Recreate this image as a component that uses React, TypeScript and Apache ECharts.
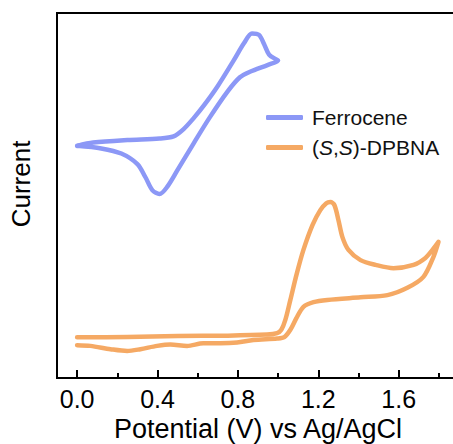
import React, { useEffect, useRef } from "react";
import * as echarts from "echarts";

const ferroceneV = [0.0, 0.08, 0.25, 0.41, 0.48, 0.53, 0.58, 0.63, 0.7, 0.78, 0.83, 0.87, 0.905, 0.93, 0.955, 0.99, 1.0,
  0.95, 0.86, 0.81, 0.75, 0.66, 0.58, 0.5, 0.45, 0.41, 0.375, 0.34, 0.3, 0.22, 0.12, 0.0];
const ferroceneI = [63.6, 64.5, 65.2, 65.6, 66.2, 68.2, 71.2, 74.6, 80.0, 87.1, 91.7, 94.4, 94.0, 91.5, 88.6, 87.3, 87.0,
  85.8, 83.9, 82.4, 78.6, 71.4, 64.3, 57.0, 52.5, 50.4, 51.4, 55.0, 58.6, 61.5, 62.9, 63.6];

const dpbnaV = [0.0, 0.25, 0.5, 0.75, 0.945, 0.995, 1.016, 1.036, 1.061, 1.091, 1.126, 1.171, 1.21, 1.24, 1.26, 1.28, 1.3, 1.32, 1.35, 1.41, 1.485, 1.574, 1.674, 1.733, 1.768, 1.798,
  1.773, 1.723, 1.643, 1.544, 1.41, 1.245, 1.176, 1.126, 1.091, 1.061, 1.031, 0.995, 0.877, 0.796, 0.713, 0.628, 0.547, 0.464, 0.398, 0.315, 0.249, 0.166, 0.066, 0.0];
const dpbnaI = [11.15, 11.2, 11.5, 11.6, 11.9, 12.3, 13.2, 15.9, 21.4, 28.2, 35.1, 41.9, 46.0, 47.9, 48.2, 47.4, 43.3, 38.6, 35.1, 32.3, 31.0, 30.1, 31.0, 32.9, 35.1, 37.3,
  33.2, 27.7, 24.7, 22.7, 22.1, 21.4, 20.8, 19.5, 16.4, 13.2, 11.2, 10.8, 10.4, 9.7, 9.5, 9.5, 8.8, 9.2, 8.8, 7.9, 7.4, 7.9, 8.8, 9.0];

const majorTicks = [0, 0.4, 0.8, 1.2, 1.6];
const minorTicks = [0.2, 0.6, 1.0, 1.4, 1.8];
const seriesNames = ["Ferrocene", "(S,S)-DPBNA"];
const xTitle = "Potential (V) vs Ag/AgCl";
const yTitle = "Current";

const FONT = "'Liberation Sans', Arial, sans-serif";

export default function App() {
  const ref = useRef<HTMLDivElement>(null);
  useEffect(() => {
    document.body.style.margin = "0";
    if (!ref.current) return;
    const chart = echarts.init(ref.current, null, { renderer: "svg" });
    const pairs = (xs: number[], ys: number[]) => xs.map((x, i) => [x, ys[i]]);
    chart.setOption({
      animation: false,
      backgroundColor: "#ffffff",
      grid: {
        left: 57,
        top: 13,
        width: 402,
        height: 365,
        outerBoundsMode: "none",
        containLabel: false,
        show: true,
        borderColor: "#000",
        borderWidth: 2,
        backgroundColor: "transparent",
      },
      legend: {
        orient: "vertical",
        left: 261,
        top: 102,
        itemWidth: 37,
        itemHeight: 5,
        itemGap: 9,
        icon: "roundRect",
        data: seriesNames,
        formatter: (name: string) =>
          name === seriesNames[1] ? "({i|S},{i|S})-DPBNA" : name,
        textStyle: {
          fontFamily: FONT,
          fontSize: 21,
          color: "#111",
          padding: [0, 0, 0, 4],
          rich: {
            i: { fontFamily: FONT, fontSize: 21, fontStyle: "italic", color: "#111" },
          },
        },
      },
      xAxis: [
        {
          type: "value",
          min: -0.1,
          max: 1.9,
          position: "bottom",
          axisLine: { show: true, lineStyle: { color: "#000", width: 2 } },
          splitLine: { show: false },
          axisTick: {
            show: true,
            inside: true,
            length: 8,
            customValues: majorTicks,
            lineStyle: { color: "#000", width: 2 },
          },
          axisLabel: {
            customValues: majorTicks,
            formatter: (v: number) => v.toFixed(1),
            fontFamily: FONT,
            fontSize: 25,
            color: "#000",
            margin: 8,
          },
          name: xTitle,
          nameLocation: "middle",
          nameGap: 26,
          nameTextStyle: { fontFamily: FONT, fontSize: 27, color: "#000" },
        },
        {
          type: "value",
          min: -0.1,
          max: 1.9,
          position: "bottom",
          gridIndex: 0,
          axisLine: { show: false },
          splitLine: { show: false },
          axisLabel: { show: false },
          axisTick: {
            show: true,
            inside: true,
            length: 5,
            customValues: minorTicks,
            lineStyle: { color: "#000", width: 2 },
          },
        },
      ],
      yAxis: {
        type: "value",
        min: 0,
        max: 100,
        axisLine: { show: false, onZero: false },
        axisTick: { show: false },
        axisLabel: { show: false },
        splitLine: { show: false },
      },
      graphic: [
        {
          type: "text",
          x: 21,
          y: 184,
          rotation: Math.PI / 2,
          style: {
            text: yTitle,
            font: `26px ${FONT}`,
            fill: "#000",
            textAlign: "center",
            textVerticalAlign: "middle",
          },
        },
      ],
      series: [
        {
          name: seriesNames[0],
          type: "line",
          showSymbol: false,
          symbol: "none",
          smooth: 0.3,
          data: pairs(ferroceneV, ferroceneI),
          itemStyle: { color: "#8C98F6" },
          lineStyle: { color: "#8C98F6", width: 4.5, cap: "round", join: "round" },
        },
        {
          name: seriesNames[1],
          type: "line",
          showSymbol: false,
          symbol: "none",
          smooth: 0.3,
          data: pairs(dpbnaV, dpbnaI),
          itemStyle: { color: "#F5A964" },
          lineStyle: { color: "#F5A964", width: 4.5, cap: "round", join: "round" },
        },
      ],
    });
    return () => chart.dispose();
  }, []);
  return <div ref={ref} style={{ width: 453, height: 444 }} />;
}
